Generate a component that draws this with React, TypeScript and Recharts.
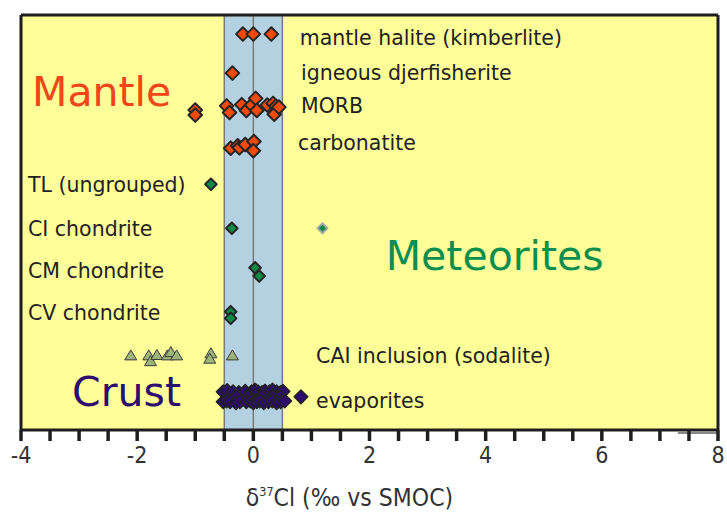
import React from "react";
import {
  ScatterChart,
  Scatter,
  XAxis,
  YAxis,
  ReferenceArea,
  ReferenceLine,
  ReferenceDot,
} from "recharts";

// ---- data (x = δ37Cl ‰, y = row position on a hidden 0..10 scale) ----
const mantlePoints = [
  // mantle halite (kimberlite)
  { x: -0.18, y: 9.54 }, { x: 0.0, y: 9.54 }, { x: 0.31, y: 9.54 },
  // igneous djerfisherite
  { x: -0.36, y: 8.6 },
  // MORB
  { x: -1.0, y: 7.71 }, { x: -1.0, y: 7.59 }, { x: -0.46, y: 7.81 }, { x: -0.41, y: 7.65 },
  { x: -0.2, y: 7.84 }, { x: -0.12, y: 7.7 }, { x: -0.03, y: 7.83 }, { x: 0.04, y: 7.99 },
  { x: 0.06, y: 7.7 }, { x: 0.24, y: 7.83 }, { x: 0.34, y: 7.87 }, { x: 0.39, y: 7.8 },
  { x: 0.36, y: 7.61 }, { x: 0.44, y: 7.78 },
  // carbonatite
  { x: -0.39, y: 6.79 }, { x: -0.27, y: 6.85 }, { x: -0.24, y: 6.8 },
  { x: -0.14, y: 6.88 }, { x: 0.01, y: 6.95 }, { x: 0.0, y: 6.73 },
];

const meteoritePoints = [
  { x: -0.73, y: 5.92 }, // TL
  { x: -0.37, y: 4.86 }, // CI
  { x: 0.03, y: 3.91 }, { x: 0.1, y: 3.71 }, // CM
  { x: -0.39, y: 2.85 }, { x: -0.39, y: 2.69 }, // CV
];

const meteoriteOutlier = [{ x: 1.19, y: 4.86 }];

const caiPoints = [
  { x: -2.11, y: 1.81 }, { x: -1.8, y: 1.81 }, { x: -1.77, y: 1.67 }, { x: -1.66, y: 1.82 },
  { x: -1.48, y: 1.81 }, { x: -1.42, y: 1.89 }, { x: -1.32, y: 1.81 }, { x: -0.73, y: 1.86 },
  { x: -0.75, y: 1.73 }, { x: -0.36, y: 1.81 },
];

const evaporitePoints = [
  { x: -0.52, y: 0.92 }, { x: -0.45, y: 0.95 }, { x: -0.35, y: 0.92 }, { x: -0.25, y: 0.9 },
  { x: -0.14, y: 0.93 }, { x: -0.03, y: 0.92 }, { x: 0.03, y: 0.96 }, { x: 0.08, y: 0.92 },
  { x: 0.15, y: 0.9 }, { x: 0.2, y: 0.94 }, { x: 0.28, y: 0.92 }, { x: 0.33, y: 0.96 },
  { x: 0.4, y: 0.92 }, { x: 0.47, y: 0.9 }, { x: 0.51, y: 0.93 },
  { x: -0.29, y: 0.8 }, { x: -0.09, y: 0.8 }, { x: 0.14, y: 0.8 }, { x: 0.34, y: 0.8 }, { x: 0.46, y: 0.8 },
  { x: -0.52, y: 0.68 }, { x: -0.46, y: 0.7 }, { x: -0.4, y: 0.68 }, { x: -0.3, y: 0.66 },
  { x: -0.23, y: 0.68 }, { x: -0.12, y: 0.68 }, { x: -0.05, y: 0.7 }, { x: 0.0, y: 0.66 },
  { x: 0.06, y: 0.68 }, { x: 0.11, y: 0.7 }, { x: 0.18, y: 0.66 }, { x: 0.26, y: 0.68 },
  { x: 0.33, y: 0.7 }, { x: 0.4, y: 0.66 }, { x: 0.47, y: 0.68 }, { x: 0.54, y: 0.7 },
  { x: 0.82, y: 0.8 },
];

const xTicks = [
  -4, -3.5, -3, -2.5, -2, -1.5, -1, -0.5, 0, 0.5, 1, 1.5, 2, 2.5, 3, 3.5, 4, 4.5, 5, 5.5, 6, 6.5, 7, 7.5, 8,
];
const xTickLabels = ["-4", "-2", "0", "2", "4", "6", "8"];

const rowLabels = [
  { text: "mantle halite (kimberlite)", x: 0.8, y: 9.45 },
  { text: "igneous djerfisherite", x: 0.82, y: 8.6 },
  { text: "MORB", x: 0.82, y: 7.81 },
  { text: "carbonatite", x: 0.77, y: 6.92 },
  { text: "TL (ungrouped)", x: -3.88, y: 5.9 },
  { text: "CI chondrite", x: -3.88, y: 4.84 },
  { text: "CM chondrite", x: -3.88, y: 3.83 },
  { text: "CV chondrite", x: -3.88, y: 2.82 },
  { text: "CAI inclusion (sodalite)", x: 1.08, y: 1.78 },
  { text: "evaporites", x: 1.08, y: 0.7 },
];

const groupLabels = [
  { text: "Mantle", x: -3.81, y: 8.14, color: "#F0461A" },
  { text: "Meteorites", x: 2.28, y: 4.19, color: "#0A8F4E" },
  { text: "Crust", x: -3.12, y: 0.92, color: "#2E0C6E" },
];

// ---- marker shapes ----
const diamond = (r: number, fill: string, stroke: string, sw: number) => (props: any) => {
  const { cx, cy } = props;
  if (cx == null || cy == null) return <g />;
  return (
    <polygon
      points={`${cx},${cy - r} ${cx + r},${cy} ${cx},${cy + r} ${cx - r},${cy}`}
      fill={fill}
      stroke={stroke}
      strokeWidth={sw}
      strokeLinejoin="round"
    />
  );
};

const triangle = (props: any) => {
  const { cx, cy } = props;
  if (cx == null || cy == null) return <g />;
  const w = 6;
  const h = 10;
  return (
    <polygon
      points={`${cx},${cy - h / 2} ${cx + w},${cy + h / 2} ${cx - w},${cy + h / 2}`}
      fill="#9DB57A"
      stroke="#3a3a3a"
      strokeWidth={1}
      strokeLinejoin="round"
    />
  );
};

const textLabel = (text: string, size: number, color: string) => (props: any) => {
  const vb = props.viewBox || {};
  const x = (vb.x ?? 0) + (vb.width ?? 0) / 2;
  const y = (vb.y ?? 0) + (vb.height ?? 0) / 2;
  return (
    <text
      x={x}
      y={y}
      fill={color}
      fontSize={size}
      fontFamily="'DejaVu Sans', Verdana, sans-serif"
      dominantBaseline="central"
      textAnchor="start"
    >
      {text}
    </text>
  );
};

const axisTitle = (props: any) => {
  const vb = props.viewBox || {};
  const cx = (vb.x ?? 0) + (vb.width ?? 0) / 2 - 20;
  const y = (vb.y ?? 0) + 76;
  return (
    <text
      x={cx}
      y={y}
      textAnchor="middle"
      fill="#333"
      fontSize={24.5}
      fontFamily="'Liberation Sans Narrow', 'Arial Narrow', 'DejaVu Sans Condensed', sans-serif"
    >
      δ
      <tspan fontSize={12.5} dy={-10}>37</tspan>
      <tspan dy={10}>Cl (‰ vs SMOC)</tspan>
    </text>
  );
};

export default function App() {
  return (
    <div style={{ position: "absolute", left: 0, top: 0, width: 727, height: 515, background: "#fff" }}>
      <ScatterChart width={727} height={515} margin={{ top: 15, right: 9, bottom: 0, left: 21 }}>
        <XAxis
          type="number"
          dataKey="x"
          domain={[-4, 8]}
          ticks={xTicks}
          interval={0}
          allowDataOverflow
          height={85}
          axisLine={{ stroke: "#1e1e1e", strokeWidth: 3 }}
          tickLine={{ stroke: "#1e1e1e", strokeWidth: 3.5 }}
          tickSize={11}
          tickMargin={6}
          tick={{ fill: "#333", fontSize: 23, fontFamily: "'Liberation Sans Narrow', 'Arial Narrow', 'DejaVu Sans Condensed', sans-serif" }}
          tickFormatter={(v: number) => (xTickLabels.includes(String(v)) ? String(v) : "")}
          label={{ content: axisTitle }}
        />
        <YAxis type="number" dataKey="y" domain={[0, 10]} allowDataOverflow hide width={0} />

        <ReferenceArea x1={-4} x2={8} y1={0} y2={10} fill="#FFFF99" fillOpacity={1} stroke="none" />
        <ReferenceArea x1={-0.5} x2={0.5} y1={0} y2={10} fill="#B3D1E1" fillOpacity={1} stroke="#7a7a7a" strokeWidth={1.5} />
        <ReferenceLine x={0} stroke="#7a7a7a" strokeWidth={1.5} />
        <ReferenceLine y={10} stroke="#1e1e1e" strokeWidth={3} />
        <ReferenceLine x={-4} stroke="#1e1e1e" strokeWidth={3} />
        <ReferenceLine x={8} stroke="#1e1e1e" strokeWidth={3} />
        <ReferenceLine
          segment={[{ x: 7.31, y: -0.07 }, { x: 8, y: -0.07 }]}
          stroke="#888"
          strokeWidth={2}
          ifOverflow="visible"
        />

        {rowLabels.map((l) => (
          <ReferenceDot
            key={l.text}
            x={l.x}
            y={l.y}
            r={0}
            fill="none"
            stroke="none"
            label={{ content: textLabel(l.text, 20.5, "#222") }}
          />
        ))}
        {groupLabels.map((l) => (
          <ReferenceDot
            key={l.text}
            x={l.x}
            y={l.y}
            r={0}
            fill="none"
            stroke="none"
            label={{ content: textLabel(l.text, 41, l.color) }}
          />
        ))}

        <Scatter data={caiPoints} shape={triangle} isAnimationActive={false} />
        <Scatter data={mantlePoints} shape={diamond(6.8, "#F24A0A", "#262626", 2)} isAnimationActive={false} />
        <Scatter data={meteoritePoints} shape={diamond(5.8, "#0A8A48", "#262626", 2)} isAnimationActive={false} />
        <Scatter data={meteoriteOutlier} shape={diamond(5, "#0A8A48", "#A8A8A8", 2)} isAnimationActive={false} />
        <Scatter data={evaporitePoints} shape={diamond(6.8, "#2E0B6E", "#222", 1.5)} isAnimationActive={false} />
      </ScatterChart>
    </div>
  );
}
